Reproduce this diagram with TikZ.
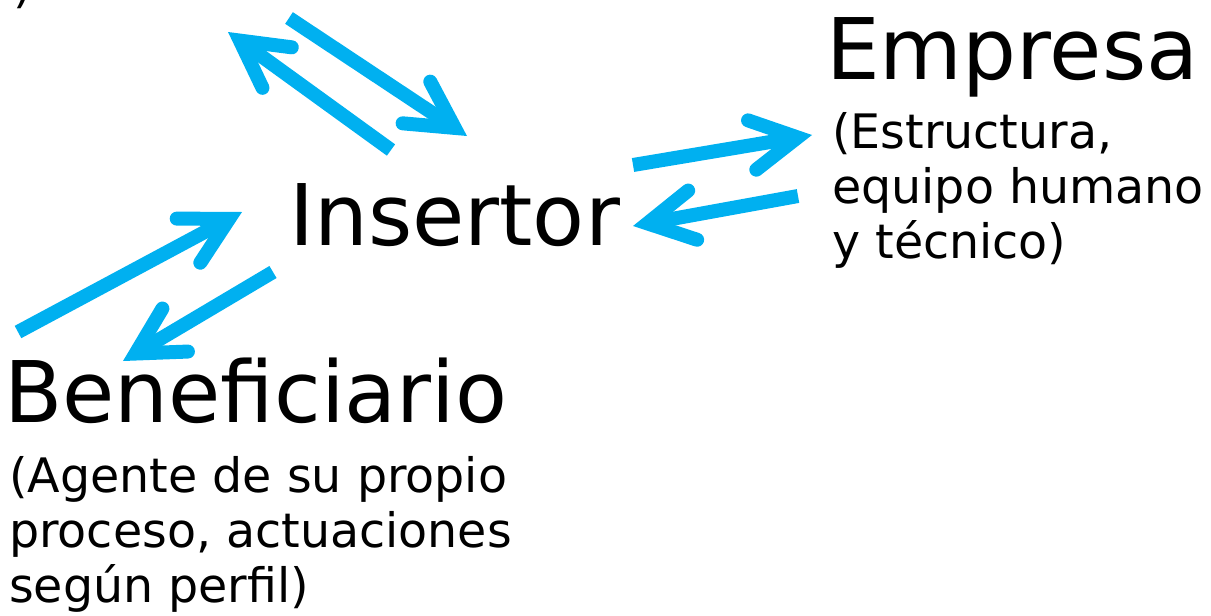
\documentclass[tikz,border=0pt]{standalone}
\usepackage{fontspec}
\setmainfont{DejaVu Sans}
\usetikzlibrary{arrows.meta}
\definecolor{azul}{RGB}{0,176,240}

\tikzset{
  flecha/.style={azul, line width=14pt,
    -{Straight Barb[length=46pt,width=50pt,line cap=round,line join=miter]}},
  titulo/.style={anchor=base west, inner sep=0pt, font=\fontsize{85}{100}\selectfont},
  nota/.style={anchor=base west, inner sep=0pt, align=left, font=\fontsize{47.5}{55}\selectfont}
}

\begin{document}
\begin{tikzpicture}[x=1pt,y=-1pt]
\clip (0,0) rectangle (1211,616);
% textos
\node[nota] (resto) at (13,2) {)};
\node[titulo] (insertor) at (289,245) {Insertor};
\node[titulo] (empresa) at (826,79) {Empresa};
% ancla en la ultima linea
\node[nota] (descempresa) at (832,258) {(Estructura,\\equipo humano\\y técnico)};
\node[titulo] (beneficiario) at (4,422) {Beneficiario};
\node[nota] (descbenef) at (9,602) {(Agente de su propio\\proceso, actuaciones\\según perfil)};
% extremos de las flechas
\coordinate (arr1) at (391,150);
\coordinate (arr2) at (228,32);
\coordinate (arr3) at (289,18);
\coordinate (arr4) at (467,136);
\coordinate (emp1) at (633,165);
\coordinate (emp2) at (812,135);
\coordinate (emp3) at (798,196);
\coordinate (emp4) at (633,226);
\coordinate (ben1) at (18,332);
\coordinate (ben2) at (242,212);
\coordinate (ben3) at (273,272);
\coordinate (ben4) at (123,361);
% flechas
\draw[flecha] (arr1) -- (arr2);
\draw[flecha] (arr3) -- (arr4);
\draw[flecha] (emp1) -- (emp2);
\draw[flecha] (emp3) -- (emp4);
\draw[flecha] (ben1) -- (ben2);
\draw[flecha] (ben3) -- (ben4);
\end{tikzpicture}
\end{document}
